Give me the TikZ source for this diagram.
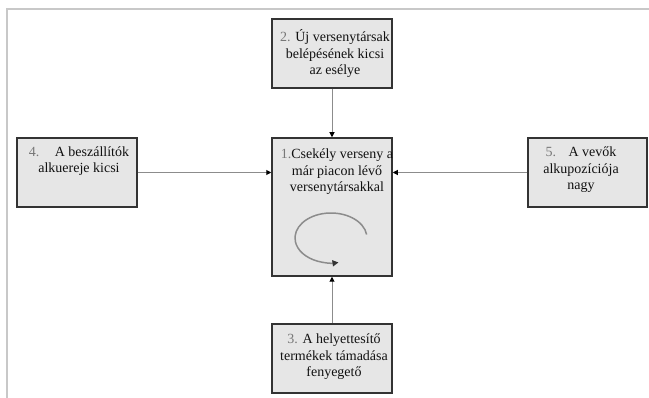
\documentclass[tikz,border=0pt]{standalone}
\usepackage{fontspec}
\setmainfont{Liberation Serif}
\usetikzlibrary{arrows.meta}
\definecolor{boxfill}{HTML}{E6E6E6}
\definecolor{boxline}{HTML}{333333}
\definecolor{numgray}{HTML}{777777}
\definecolor{conn}{HTML}{8C8C8C}
\definecolor{framegray}{HTML}{C8C8C8}
\definecolor{txt}{HTML}{111111}
\begin{document}
\begin{tikzpicture}[x=1pt,y=1pt,
  box/.style={draw=boxline, fill=boxfill, line width=1.5pt, inner sep=0pt, minimum width=120pt},
  lbl/.style={align=center, inner sep=0pt, text=txt, font=\fontsize{14}{16.5}\selectfont},
  conline/.style={draw=conn, line width=1pt, -{Triangle[length=5pt,width=5pt,color=black]}}]
\useasboundingbox (0,0) rectangle (649,-398);
\fill[white] (0,0) rectangle (649,-398);
% frame
\draw[framegray, line width=1.5pt] (7,-398) -- (7,-9) -- (649,-9);
% boxes
\node[box, minimum height=138pt] (b1) at (332,-207) {};
\node[box, minimum height=69pt] (b2) at (332,-53.5) {};
\node[box, minimum height=69pt] (b3) at (332,-358.5) {};
\node[box, minimum height=69pt] (b4) at (77,-172.5) {};
\node[box, minimum height=69pt, minimum width=119pt] (b5) at (587.5,-172.5) {};
% texts
\node[lbl] (t1) at (337,-172) {\textcolor{numgray}{1.}Csekély verseny a\\már piacon lévő\\versenytársakkal};
\node[lbl] (t2) at (335,-54) {\textcolor{numgray}{2.} Új versenytársak\\belépésének kicsi\\az esélye};
\node[lbl] (t3) at (334,-357) {\textcolor{numgray}{3.} A helyettesítő\\termékek támadása\\fenyegető};
\node[lbl] (t4) at (79,-161) {\textcolor{numgray}{4.}\hspace{1.1em}A beszállítók\\alkuereje kicsi};
\node[lbl] (t5) at (581,-170) {\textcolor{numgray}{5.}\hspace{0.9em}A vevők\\alkupozíciója\\nagy};
% connectors
\draw[conline] (b2.south) -- (b1.north);
\draw[conline] (b3.north) -- (b1.south);
\draw[conline] (b4.east) -- (b4.east -| b1.west);
\draw[conline] (b5.west) -- (b5.west -| b1.east);
% cycle arrow
\coordinate (cyc) at (331,-238);
\draw[conn, line width=1.5pt, -{Triangle[length=6pt,width=6pt,color=boxline]}]
  ([shift={(8:36pt and 25pt)}]cyc) arc[start angle=8, end angle=282, x radius=36pt, y radius=25pt];
\end{tikzpicture}
\end{document}
